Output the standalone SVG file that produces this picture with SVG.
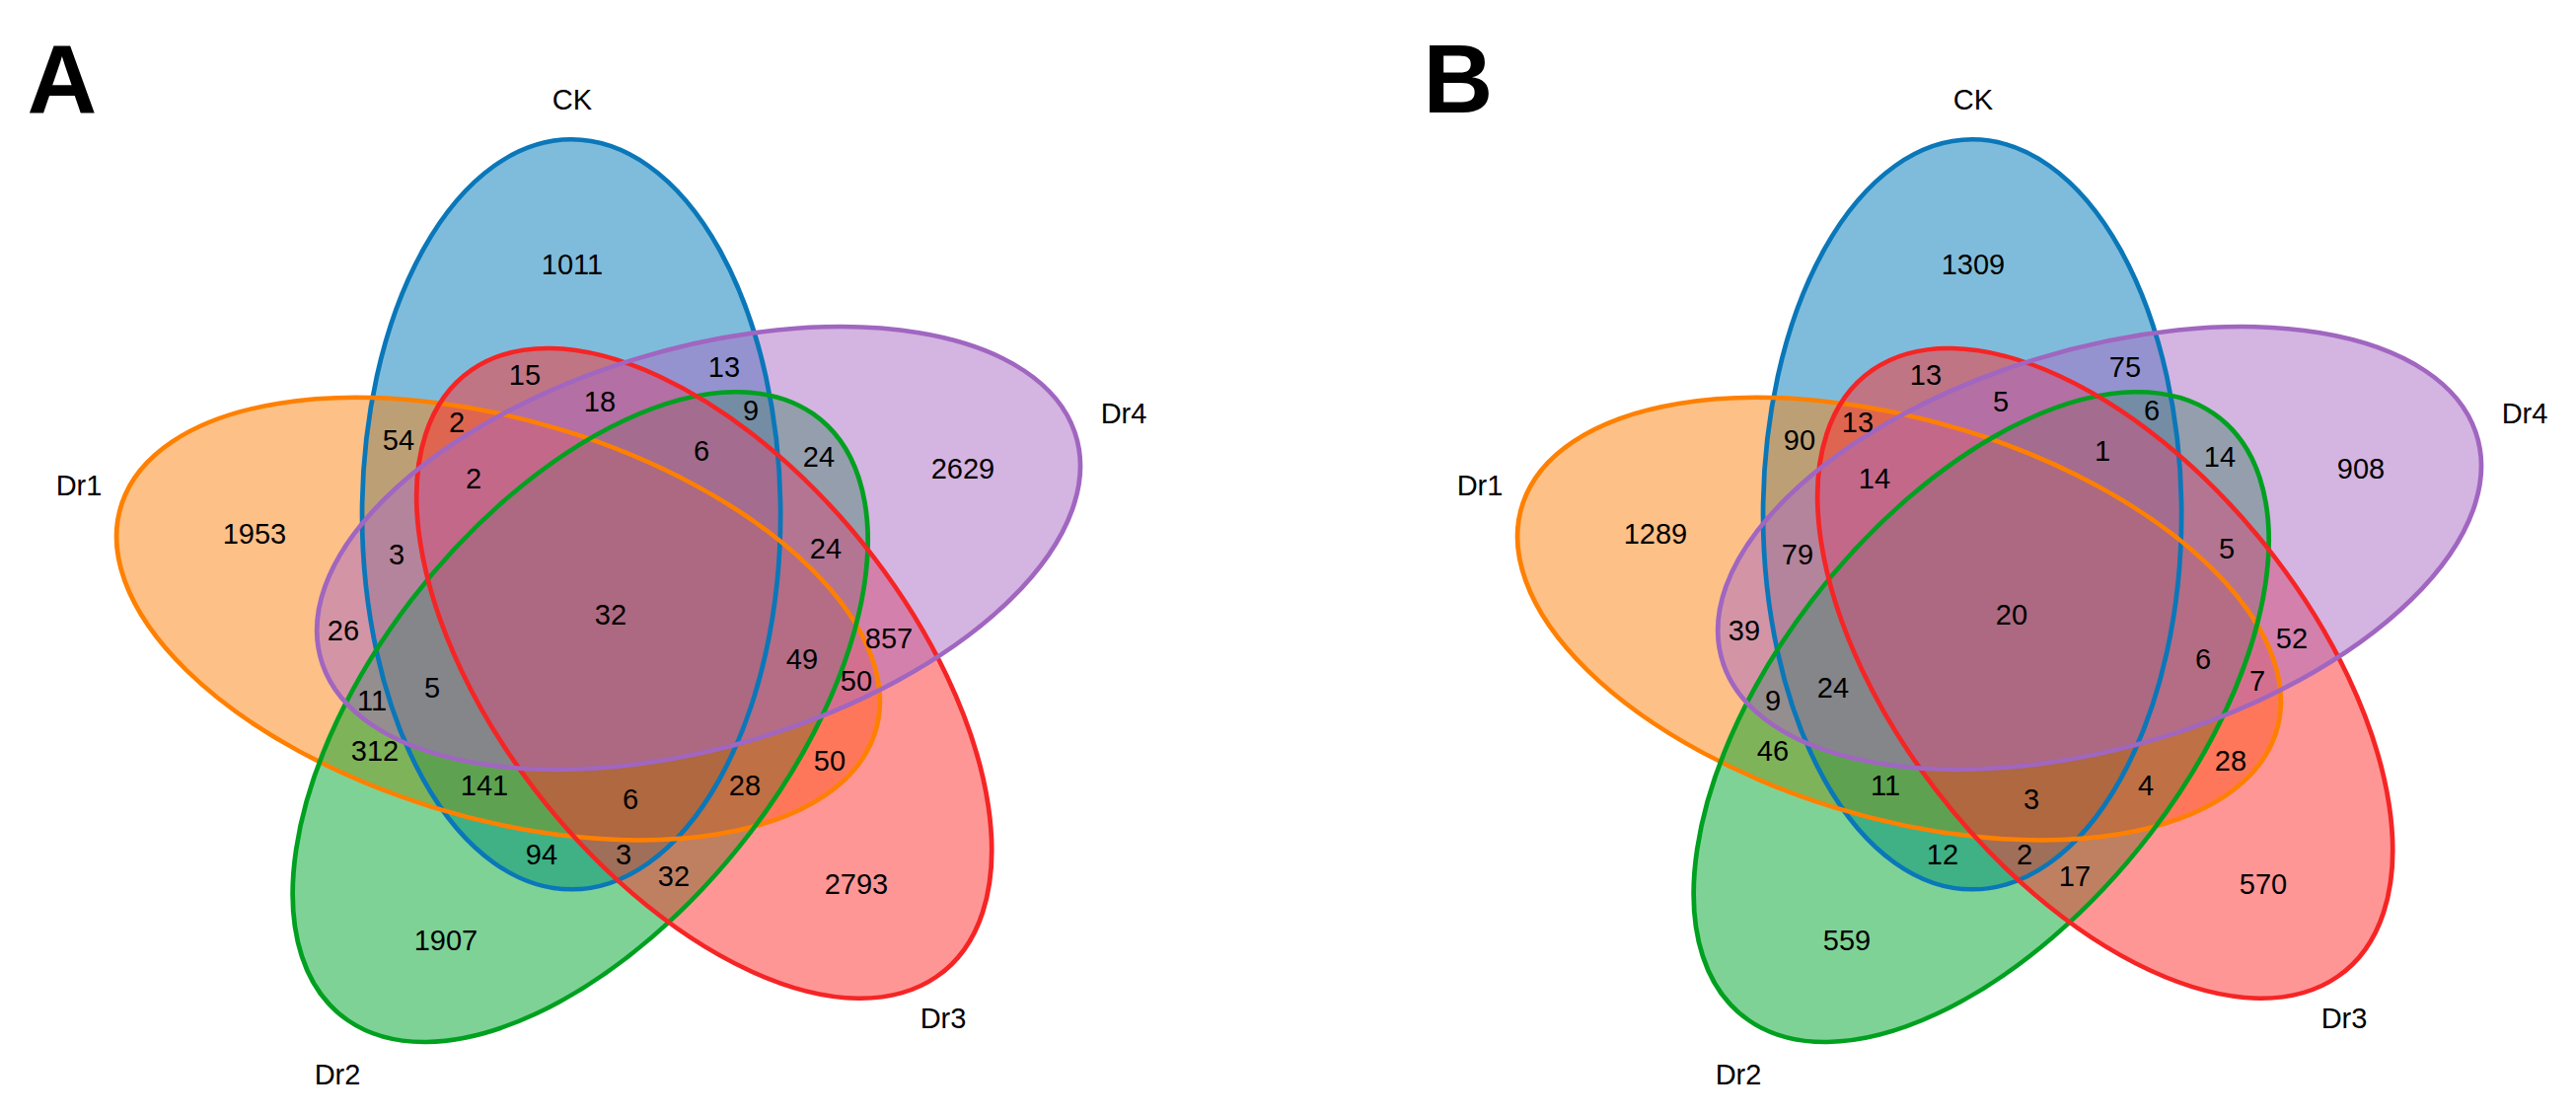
<svg xmlns="http://www.w3.org/2000/svg" xmlns:xlink="http://www.w3.org/1999/xlink" width="2611" height="1131" viewBox="0 0 2611 1131">
<style>
  .f { stroke: none; fill-opacity: 0.5; }
  .o { fill: none; stroke-width: 4.5; vector-effect: non-scaling-stroke; }
  .f.ck { fill: #0079B7; } .o.ck { stroke: #0A77B9; }
  .f.d1 { fill: #FB810F; } .o.d1 { stroke: #FF8000; }
  .f.d2 { fill: #00A52D; } .o.d2 { stroke: #00A020; }
  .f.d3 { fill: #FF2D2D; } .o.d3 { stroke: #F52525; }
  .f.d4 { fill: #A969C3; } .o.d4 { stroke: #A066C0; }
  text { font-family: "Liberation Sans", Arial, Helvetica, sans-serif; fill: #000; text-anchor: middle; }
  .n { font-size: 29px; }
  .lab { font-size: 29px; }
  .panel { font-size: 98px; font-weight: bold; }
</style>
<defs>
  <ellipse id="e" cx="0" cy="0" rx="201" ry="380"/>
</defs>

<!-- ================= Panel A ================= -->
<g id="panelA">
  <text class="panel" x="63" y="114">A</text>
  <g id="A-CK">
    <use xlink:href="#e" class="f ck" transform="translate(618.8,622.6) scale(1.055,1) rotate(-20.4) translate(0,-108) rotate(20.4)"/>
    <text class="lab" x="580" y="111">CK</text>
  </g>
  <g id="A-Dr1">
    <use xlink:href="#e" class="f d1" transform="translate(618.8,622.6) scale(1.055,1) rotate(267.6) translate(0,-108) rotate(20.4)"/>
    <text class="lab" x="80" y="502">Dr1</text>
  </g>
  <g id="A-Dr2">
    <use xlink:href="#e" class="f d2" transform="translate(618.8,622.6) scale(1.055,1) rotate(195.6) translate(0,-108) rotate(20.4)"/>
    <text class="lab" x="342" y="1099">Dr2</text>
  </g>
  <g id="A-Dr3">
    <use xlink:href="#e" class="f d3" transform="translate(618.8,622.6) scale(1.055,1) rotate(123.6) translate(0,-108) rotate(20.4)"/>
    <text class="lab" x="956" y="1042">Dr3</text>
  </g>
  <g id="A-Dr4">
    <use xlink:href="#e" class="f d4" transform="translate(618.8,622.6) scale(1.055,1) rotate(51.6) translate(0,-108) rotate(20.4)"/>
    <text class="lab" x="1139" y="429">Dr4</text>
  </g>
  <g id="A-outlines">
    <use xlink:href="#e" class="o ck" transform="translate(618.8,622.6) scale(1.055,1) rotate(-20.4) translate(0,-108) rotate(20.4)"/>
    <use xlink:href="#e" class="o d1" transform="translate(618.8,622.6) scale(1.055,1) rotate(267.6) translate(0,-108) rotate(20.4)"/>
    <use xlink:href="#e" class="o d2" transform="translate(618.8,622.6) scale(1.055,1) rotate(195.6) translate(0,-108) rotate(20.4)"/>
    <use xlink:href="#e" class="o d3" transform="translate(618.8,622.6) scale(1.055,1) rotate(123.6) translate(0,-108) rotate(20.4)"/>
    <use xlink:href="#e" class="o d4" transform="translate(618.8,622.6) scale(1.055,1) rotate(51.6) translate(0,-108) rotate(20.4)"/>
  </g>
  <g id="A-counts">
    <text class="n" x="580" y="278">1011</text>
    <text class="n" x="532" y="390">15</text>
    <text class="n" x="463" y="438">2</text>
    <text class="n" x="404" y="456">54</text>
    <text class="n" x="480" y="495">2</text>
    <text class="n" x="258" y="551">1953</text>
    <text class="n" x="402" y="572">3</text>
    <text class="n" x="734" y="382">13</text>
    <text class="n" x="608" y="417">18</text>
    <text class="n" x="761" y="426">9</text>
    <text class="n" x="711" y="467">6</text>
    <text class="n" x="830" y="473">24</text>
    <text class="n" x="976" y="485">2629</text>
    <text class="n" x="837" y="566">24</text>
    <text class="n" x="348" y="649">26</text>
    <text class="n" x="377" y="720">11</text>
    <text class="n" x="438" y="707">5</text>
    <text class="n" x="380" y="771">312</text>
    <text class="n" x="491" y="806">141</text>
    <text class="n" x="549" y="876">94</text>
    <text class="n" x="452" y="963">1907</text>
    <text class="n" x="619" y="633">32</text>
    <text class="n" x="813" y="678">49</text>
    <text class="n" x="901" y="657">857</text>
    <text class="n" x="868" y="700">50</text>
    <text class="n" x="841" y="781">50</text>
    <text class="n" x="639" y="820">6</text>
    <text class="n" x="755" y="806">28</text>
    <text class="n" x="632" y="876">3</text>
    <text class="n" x="683" y="898">32</text>
    <text class="n" x="868" y="906">2793</text>
  </g>
</g>

<!-- ================= Panel B ================= -->
<g id="panelB" transform="translate(1420,0)">
  <text class="panel" x="58" y="114">B</text>
  <g id="B-CK">
    <use xlink:href="#e" class="f ck" transform="translate(618.8,622.6) scale(1.055,1) rotate(-20.4) translate(0,-108) rotate(20.4)"/>
    <text class="lab" x="580" y="111">CK</text>
  </g>
  <g id="B-Dr1">
    <use xlink:href="#e" class="f d1" transform="translate(618.8,622.6) scale(1.055,1) rotate(267.6) translate(0,-108) rotate(20.4)"/>
    <text class="lab" x="80" y="502">Dr1</text>
  </g>
  <g id="B-Dr2">
    <use xlink:href="#e" class="f d2" transform="translate(618.8,622.6) scale(1.055,1) rotate(195.6) translate(0,-108) rotate(20.4)"/>
    <text class="lab" x="342" y="1099">Dr2</text>
  </g>
  <g id="B-Dr3">
    <use xlink:href="#e" class="f d3" transform="translate(618.8,622.6) scale(1.055,1) rotate(123.6) translate(0,-108) rotate(20.4)"/>
    <text class="lab" x="956" y="1042">Dr3</text>
  </g>
  <g id="B-Dr4">
    <use xlink:href="#e" class="f d4" transform="translate(618.8,622.6) scale(1.055,1) rotate(51.6) translate(0,-108) rotate(20.4)"/>
    <text class="lab" x="1139" y="429">Dr4</text>
  </g>
  <g id="B-outlines">
    <use xlink:href="#e" class="o ck" transform="translate(618.8,622.6) scale(1.055,1) rotate(-20.4) translate(0,-108) rotate(20.4)"/>
    <use xlink:href="#e" class="o d1" transform="translate(618.8,622.6) scale(1.055,1) rotate(267.6) translate(0,-108) rotate(20.4)"/>
    <use xlink:href="#e" class="o d2" transform="translate(618.8,622.6) scale(1.055,1) rotate(195.6) translate(0,-108) rotate(20.4)"/>
    <use xlink:href="#e" class="o d3" transform="translate(618.8,622.6) scale(1.055,1) rotate(123.6) translate(0,-108) rotate(20.4)"/>
    <use xlink:href="#e" class="o d4" transform="translate(618.8,622.6) scale(1.055,1) rotate(51.6) translate(0,-108) rotate(20.4)"/>
  </g>
  <g id="B-counts">
    <text class="n" x="580" y="278">1309</text>
    <text class="n" x="532" y="390">13</text>
    <text class="n" x="463" y="438">13</text>
    <text class="n" x="404" y="456">90</text>
    <text class="n" x="480" y="495">14</text>
    <text class="n" x="258" y="551">1289</text>
    <text class="n" x="402" y="572">79</text>
    <text class="n" x="734" y="382">75</text>
    <text class="n" x="608" y="417">5</text>
    <text class="n" x="761" y="426">6</text>
    <text class="n" x="711" y="467">1</text>
    <text class="n" x="830" y="473">14</text>
    <text class="n" x="973" y="485">908</text>
    <text class="n" x="837" y="566">5</text>
    <text class="n" x="348" y="649">39</text>
    <text class="n" x="377" y="720">9</text>
    <text class="n" x="438" y="707">24</text>
    <text class="n" x="377" y="771">46</text>
    <text class="n" x="491" y="806">11</text>
    <text class="n" x="549" y="876">12</text>
    <text class="n" x="452" y="963">559</text>
    <text class="n" x="619" y="633">20</text>
    <text class="n" x="813" y="678">6</text>
    <text class="n" x="903" y="657">52</text>
    <text class="n" x="868" y="700">7</text>
    <text class="n" x="841" y="781">28</text>
    <text class="n" x="639" y="820">3</text>
    <text class="n" x="755" y="806">4</text>
    <text class="n" x="632" y="876">2</text>
    <text class="n" x="683" y="898">17</text>
    <text class="n" x="874" y="906">570</text>
  </g>
</g>
</svg>
